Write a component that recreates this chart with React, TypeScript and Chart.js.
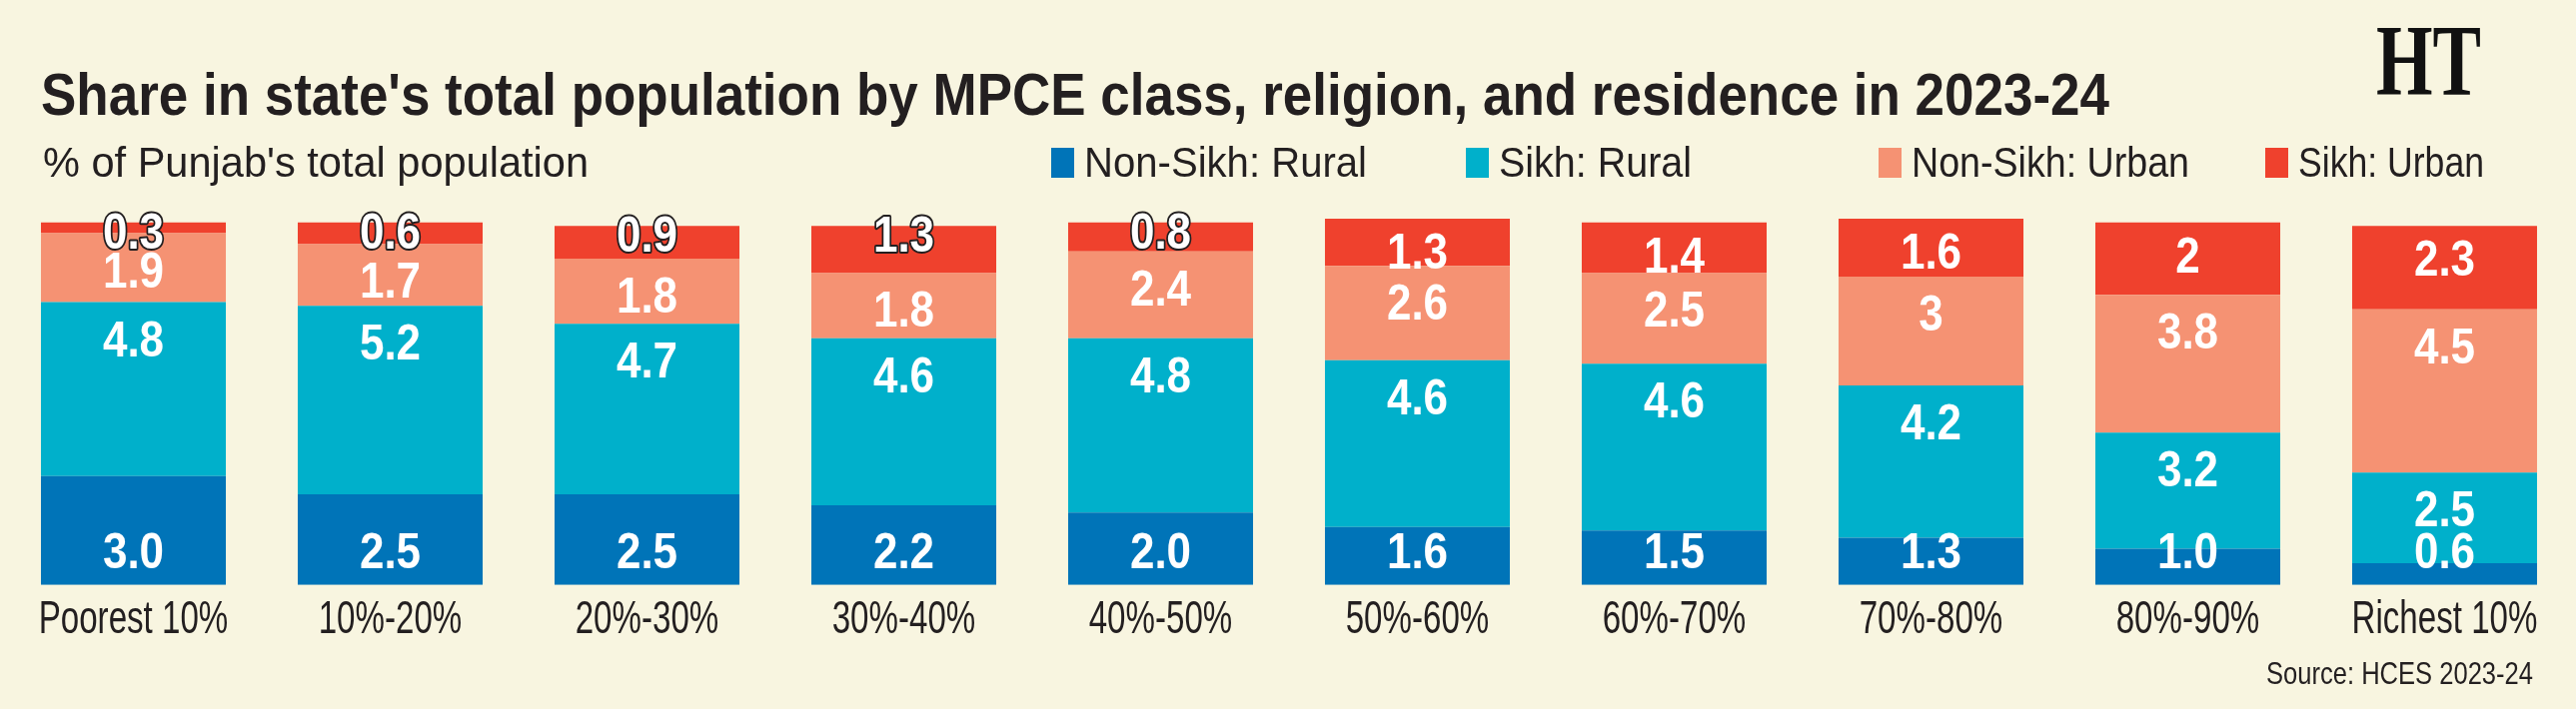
import React, { useEffect, useRef } from "react";
import { Chart, CategoryScale, registerables } from "chart.js";

Chart.register(...registerables);

// ---------- DATA ----------
const categories = [
  "Poorest 10%", "10%-20%", "20%-30%", "30%-40%", "40%-50%",
  "50%-60%", "60%-70%", "70%-80%", "80%-90%", "Richest 10%",
];
const seriesNames = ["Non-Sikh: Rural", "Sikh: Rural", "Non-Sikh: Urban", "Sikh: Urban"];
const nonSikhRural = [3.0, 2.5, 2.5, 2.2, 2.0, 1.6, 1.5, 1.3, 1.0, 0.6];
const sikhRural = [4.8, 5.2, 4.7, 4.6, 4.8, 4.6, 4.6, 4.2, 3.2, 2.5];
const nonSikhUrban = [1.9, 1.7, 1.8, 1.8, 2.4, 2.6, 2.5, 3, 3.8, 4.5];
const sikhUrban = [0.3, 0.6, 0.9, 1.3, 0.8, 1.3, 1.4, 1.6, 2, 2.3];

const titleText = "Share in state's total population by MPCE class, religion, and residence in 2023-24";
const subtitleText = "% of Punjab's total population";
const sourceText = "Source: HCES 2023-24";
const logoText = "HT";

// ---------- STYLE ----------
const W = 2578;
const H = 710;
const BG = "#f8f5e0";
const INK = "#231f20";
const COLORS = ["#0074b8", "#00b0cb", "#f59273", "#ef412d"];
const FONT = "'Liberation Sans', Arial, sans-serif";
const TICK_SX = 0.72; // horizontal condensing of category labels
const LABEL_SX = 0.88; // horizontal condensing of value labels
const OUTLINED_TOP_COUNT = 5; // first bars whose thin top segment gets an outlined label

// Category scale that draws its tick labels horizontally condensed
class NarrowCategoryScale extends (CategoryScale as any) {
  static id = "narrowCategory";
  static defaults = (CategoryScale as any).defaults;
  drawLabels(chartArea: any) {
    const self: any = this;
    const optionTicks = self.options.ticks;
    if (!optionTicks.display) return;
    const ctx = self.ctx as CanvasRenderingContext2D;
    const items = self.getLabelItems(chartArea);
    for (const item of items) {
      const { label, font, options, textOffset } = item;
      ctx.save();
      ctx.translate(options.translation[0], options.translation[1]);
      if (options.rotation) ctx.rotate(options.rotation);
      ctx.scale(TICK_SX, 1);
      ctx.font = font.string;
      ctx.fillStyle = options.color;
      ctx.textAlign = options.textAlign;
      ctx.textBaseline = options.textBaseline;
      const lines = Array.isArray(label) ? label : [label];
      let y = textOffset;
      for (const line of lines) {
        ctx.fillText(String(line), 0, y);
        y += font.lineHeight;
      }
      ctx.restore();
    }
  }
}
Chart.register(NarrowCategoryScale as any);

function fitText(
  ctx: CanvasRenderingContext2D,
  text: string,
  x: number,
  y: number,
  font: string,
  color: string,
  width: number,
  align: "left" | "right" | "center" = "left"
) {
  ctx.save();
  ctx.font = font;
  ctx.fillStyle = color;
  ctx.textBaseline = "alphabetic";
  ctx.textAlign = "left";
  const m = ctx.measureText(text).width;
  const sx = width ? width / m : 1;
  const w = m * sx;
  const left = align === "right" ? x - w : align === "center" ? x - w / 2 : x;
  ctx.translate(left, y);
  ctx.scale(sx, 1);
  ctx.fillText(text, 0, 0);
  ctx.restore();
}

function drawSegLabels(chart: any, d: number) {
  const meta = chart.getDatasetMeta(d);
  const ctx = chart.ctx as CanvasRenderingContext2D;
  const ds = chart.data.datasets[d];
  meta.data.forEach((el: any, i: number) => {
    const v = ds.data[i] as number;
    const txt = d === 0 ? v.toFixed(1) : String(v);
    const top = Math.min(el.y, el.base);
    const bottom = Math.max(el.y, el.base);
    let y: number;
    let outlined = false;
    if (d === 0) y = bottom - 17;
    else if (d === 3) {
      if (i < OUTLINED_TOP_COUNT) {
        outlined = true;
        y = top + 26;
      } else y = top + 50;
    } else y = top + 54;
    ctx.save();
    ctx.translate(el.x, y);
    ctx.scale(LABEL_SX, 1);
    ctx.font = `bold 50px ${FONT}`;
    ctx.textAlign = "center";
    ctx.textBaseline = "alphabetic";
    if (outlined) {
      ctx.lineWidth = 4;
      ctx.lineJoin = "round";
      ctx.strokeStyle = INK;
      ctx.strokeText(txt, 0, 0);
    }
    ctx.fillStyle = "#ffffff";
    ctx.fillText(txt, 0, 0);
    ctx.restore();
  });
}

const bgPlugin = {
  id: "bg",
  beforeDraw(chart: any) {
    const ctx = chart.ctx;
    ctx.save();
    ctx.fillStyle = BG;
    ctx.fillRect(0, 0, chart.width, chart.height);
    ctx.restore();
  },
};

const segLabelPlugin = {
  id: "segLabels",
  afterDatasetDraw(chart: any, args: any) {
    // labels of lower segments are drawn right after their own bars
    if (args.index !== 3) drawSegLabels(chart, args.index);
  },
  afterDatasetsDraw(chart: any) {
    // top-segment labels sit over everything
    drawSegLabels(chart, 3);
  },
};

const decorPlugin = {
  id: "decor",
  afterDraw(chart: any) {
    const ctx = chart.ctx as CanvasRenderingContext2D;
    // Title
    fitText(ctx, titleText, 41, 115, `bold 60px ${FONT}`, INK, 2070);
    // Subtitle
    fitText(ctx, subtitleText, 43, 177, `42px ${FONT}`, INK, 546);
    // Legend
    const legendX = [1052, 1467, 1880, 2267];
    const legendW = [283, 193, 278, 186];
    seriesNames.forEach((name, i) => {
      ctx.save();
      ctx.fillStyle = COLORS[i];
      ctx.fillRect(legendX[i], 148, 23, 30);
      ctx.restore();
      fitText(ctx, name, legendX[i] + 33, 177, `43px ${FONT}`, INK, legendW[i]);
    });
    // Logo
    fitText(ctx, logoText, 2378, 95, `bold 102px 'Liberation Serif', 'DejaVu Serif', serif`, "#111111", 105);
    // Source
    fitText(ctx, sourceText, 2535, 685, `32px ${FONT}`, INK, 267, "right");
  },
};

export default function App() {
  const canvasRef = useRef<HTMLCanvasElement | null>(null);

  useEffect(() => {
    document.body.style.margin = "0";
    document.body.style.background = BG;
    const canvas = canvasRef.current;
    if (!canvas) return;
    const seriesData = [nonSikhRural, sikhRural, nonSikhUrban, sikhUrban];
    const chart = new Chart(canvas, {
      type: "bar",
      data: {
        labels: categories,
        datasets: seriesData.map((data, i) => ({
          label: seriesNames[i],
          data,
          backgroundColor: COLORS[i],
          borderWidth: 0,
          barPercentage: 0.72,
          categoryPercentage: 1.0,
        })),
      },
      options: {
        responsive: false,
        animation: false,
        devicePixelRatio: 1,
        layout: { padding: { top: 219, left: 5, right: 3, bottom: 53 } },
        plugins: {
          legend: { display: false },
          title: { display: false },
          tooltip: { enabled: false },
        },
        scales: {
          x: {
            type: "narrowCategory" as any,
            stacked: true,
            grid: { display: false, drawTicks: false },
            border: { display: false },
            ticks: {
              color: INK,
              padding: 8,
              maxRotation: 0,
              autoSkip: false,
              font: { family: FONT, size: 46 },
            },
            afterFit(scale: any) {
              scale.paddingLeft = 0;
              scale.paddingRight = 0;
            },
          },
          y: {
            stacked: true,
            display: false,
            min: 0,
            max: 10.1,
          },
        },
      },
      plugins: [bgPlugin, segLabelPlugin, decorPlugin],
    });
    return () => chart.destroy();
  }, []);

  return (
    <div style={{ width: W, height: H, background: BG }}>
      <canvas ref={canvasRef} width={W} height={H} style={{ display: "block", width: W, height: H }} />
    </div>
  );
}
